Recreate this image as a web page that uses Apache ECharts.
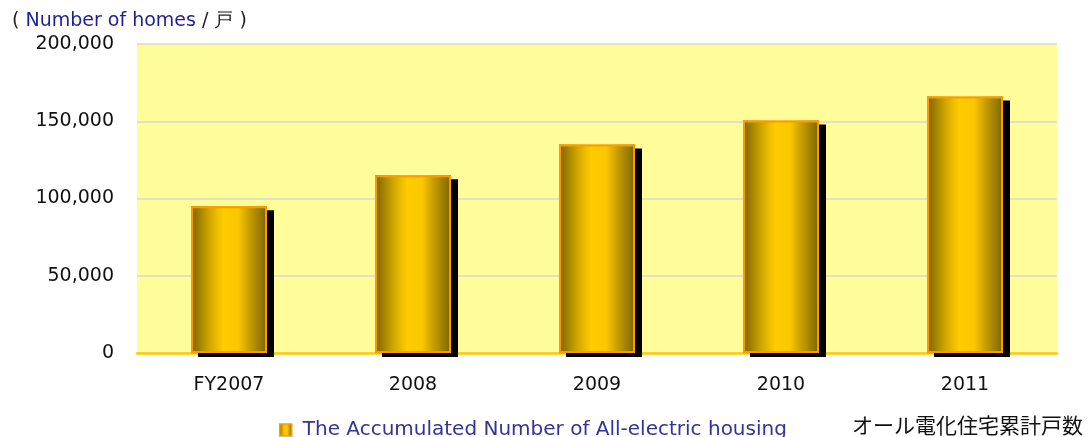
<!DOCTYPE html>
<html>
<head>
<meta charset="utf-8">
<script src="https://cdn.jsdelivr.net/npm/echarts@6/dist/echarts.min.js"></script>
<style>
  html, body { margin: 0; padding: 0; background: #fff; }
  #chart { width: 1089px; height: 437px; }
</style>
</head>
<body>
<div id="chart"></div>
<script>
// data
var categories = ['FY2007', '2008', '2009', '2010', '2011'];
var homes = [95000, 115000, 135000, 150500, 166000];
var seriesName = 'The Accumulated Number of All-electric housing';

var barGradient = new echarts.graphic.LinearGradient(0, 0, 1, 0, [
  { offset: 0, color: '#7d6400' },
  { offset: 0.25, color: '#d2a800' },
  { offset: 0.42, color: '#ffcc00' },
  { offset: 0.62, color: '#fbc800' },
  { offset: 0.76, color: '#c9a000' },
  { offset: 1, color: '#7d6400' }
]);

var chart = echarts.init(document.getElementById('chart'));
chart.setOption({
  animation: false,
  backgroundColor: '#fff',
  textStyle: { fontFamily: 'DejaVu Sans' },
  grid: {
    left: 137, right: 32, top: 44, bottom: 84,
    show: true, backgroundColor: '#fffd99', borderWidth: 0
  },
  title: {
    text: '( {b|Number of homes} / 戸 )',
    left: 7, top: 7,
    textStyle: {
      fontSize: 19, fontWeight: 'normal', color: '#222',
      fontFamily: 'DejaVu Sans',
      rich: { b: { fontSize: 19, color: '#1f1f99', fontFamily: 'DejaVu Sans' } }
    }
  },
  legend: {
    left: 274, top: 415,
    icon: 'rect', itemWidth: 12, itemHeight: 12, itemGap: 10,
    textStyle: { color: '#333399', fontSize: 20, fontFamily: 'DejaVu Sans', padding: [0, 0, 0, 6] },
    data: [{ name: seriesName, itemStyle: { color: barGradient, borderColor: '#ff9900', borderWidth: 1.5 } }]
  },
  graphic: [{
    type: 'text', left: 852, top: 415,
    style: { text: 'オール電化住宅累計戸数', fontSize: 21, fill: '#111', fontFamily: 'Noto Sans CJK JP' }
  }],
  xAxis: {
    type: 'category',
    data: categories,
    axisLine: { lineStyle: { color: '#ffcc00', width: 2.5 } },
    axisTick: { inside: true, length: 6, lineStyle: { color: '#ffcc00', width: 2 } },
    axisLabel: { color: '#111', fontSize: 19, margin: 23, fontFamily: 'DejaVu Sans' }
  },
  yAxis: {
    type: 'value',
    min: 0, max: 200000, interval: 50000,
    axisLine: { show: false },
    axisTick: { show: false },
    splitLine: { lineStyle: { color: '#d9d9d0', width: 1.5 } },
    axisLabel: {
      color: '#111', fontSize: 19, margin: 23, fontFamily: 'DejaVu Sans',
      formatter: function (v) { return v.toLocaleString('en-US'); }
    }
  },
  series: [{
    name: seriesName,
    type: 'bar',
    data: homes,
    barWidth: 76,
    z: 2,
    itemStyle: {
      color: barGradient,
      borderWidth: 0,
      shadowColor: '#000',
      shadowBlur: 0,
      shadowOffsetX: 7,
      shadowOffsetY: 4
    }
  }, {
    // orange outline drawn over the filled bars, without shadow
    name: seriesName,
    type: 'bar',
    data: homes,
    barWidth: 76,
    barGap: '-100%',
    z: 3,
    silent: true,
    itemStyle: {
      color: 'rgba(0,0,0,0)',
      borderColor: '#ff9900',
      borderWidth: 2
    }
  }]
});
</script>
</body>
</html>
